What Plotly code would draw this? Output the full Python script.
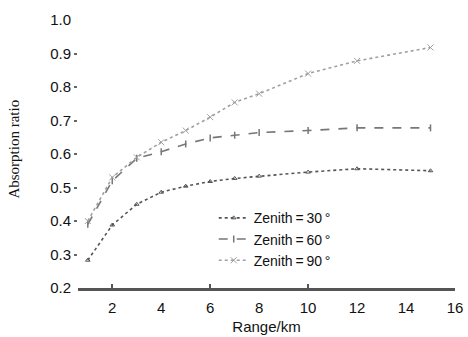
import plotly.graph_objects as go

range_km = [1, 2, 3, 4, 5, 6, 7, 8, 10, 12, 15]
zenith30 = [0.283, 0.388, 0.450, 0.486, 0.504, 0.518, 0.527, 0.534, 0.546, 0.556, 0.550]
zenith60 = [0.390, 0.520, 0.587, 0.607, 0.630, 0.648, 0.656, 0.664, 0.670, 0.678, 0.678]
zenith90 = [0.400, 0.530, 0.590, 0.635, 0.670, 0.710, 0.754, 0.780, 0.840, 0.878, 0.918]
series_names = ["Zenith\u2009=\u200930\u2009°", "Zenith\u2009=\u200960\u2009°", "Zenith\u2009=\u200990\u2009°"]
x_ticks = [2, 4, 6, 8, 10, 12, 14, 16]
x_tick_marks = [2, 6, 10]
y_ticks = [0.2, 0.3, 0.4, 0.5, 0.6, 0.7, 0.8, 0.9, 1.0]
y_tick_labels = ["0.2", "0.3", "0.4", "0.5", "0.6", "0.7", "0.8", "0.9", "1.0"]
y_tick_marks = [0.3, 0.4, 0.5, 0.6, 0.7, 0.8, 0.9]

SANS = "Liberation Sans, Arial, sans-serif"

fig = go.Figure()
fig.add_trace(go.Scatter(
    x=range_km, y=zenith30, name=series_names[0], mode="lines+markers",
    line=dict(color="#555555", width=1.6, dash="dot"),
    marker=dict(symbol="triangle-up-open", size=4, color="#555555", line=dict(width=1)),
))
fig.add_trace(go.Scatter(
    x=range_km, y=zenith60, name=series_names[1], mode="lines+markers",
    line=dict(color="#777777", width=1.6, dash="dash"),
    marker=dict(symbol="line-ns-open", size=5, color="#777777", line=dict(width=1.5, color="#777777")),
))
fig.add_trace(go.Scatter(
    x=range_km, y=zenith90, name=series_names[2], mode="lines+markers",
    line=dict(color="#a0a0a0", width=1.6, dash="dot"),
    marker=dict(symbol="x-thin-open", size=6, color="#a0a0a0", line=dict(width=1, color="#a0a0a0")),
))
# empty trace on overlay axes carrying the sparse tick marks
fig.add_trace(go.Scatter(x=[], y=[], xaxis="x2", yaxis="y2", showlegend=False))

fig.update_layout(
    width=468, height=337,
    margin=dict(l=78, r=13, t=20, b=49, autoexpand=False),
    paper_bgcolor="white", plot_bgcolor="white",
    font=dict(family=SANS, size=15, color="#111111"),
    showlegend=True,
    legend=dict(x=0.36, y=0.32, xanchor="left", yanchor="top",
                bgcolor="rgba(0,0,0,0)", font=dict(family=SANS, size=14),
                tracegroupgap=0, itemwidth=30),
    xaxis=dict(range=[0.6, 16], tickvals=x_ticks, ticktext=[str(v) for v in x_ticks],
               showgrid=False, zeroline=False, showline=True, linecolor="#555555",
               linewidth=2.5, ticks="", tickfont=dict(family=SANS, size=15),
               ticklabelstandoff=4, automargin=False,
               title=dict(text="Range/km", font=dict(family=SANS, size=15), standoff=7)),
    xaxis2=dict(overlaying="x", matches="x", range=[0.6, 16], tickvals=x_tick_marks,
                ticks="inside", ticklen=4, tickwidth=2, tickcolor="#555555",
                showticklabels=False, showgrid=False, zeroline=False, showline=False),
    yaxis=dict(range=[0.2, 1.0], tickvals=y_ticks, ticktext=y_tick_labels,
               showgrid=False, zeroline=False, showline=False,
               ticks="", ticklabelstandoff=6, automargin=False,
               tickfont=dict(family=SANS, size=15)),
    yaxis2=dict(overlaying="y", matches="y", range=[0.2, 1.0], tickvals=y_tick_marks,
                ticks="outside", ticklen=3, tickwidth=2, tickcolor="#666666",
                showticklabels=False, showgrid=False, zeroline=False, showline=False),
    annotations=[dict(text="Absorption ratio", textangle=-90, xref="paper", yref="paper",
                      x=-0.17, y=0.52, xanchor="center", yanchor="middle", showarrow=False,
                      font=dict(family="Liberation Serif, Times New Roman, serif", size=15, color="#111111"))],
)

fig.write_html("out.html")
